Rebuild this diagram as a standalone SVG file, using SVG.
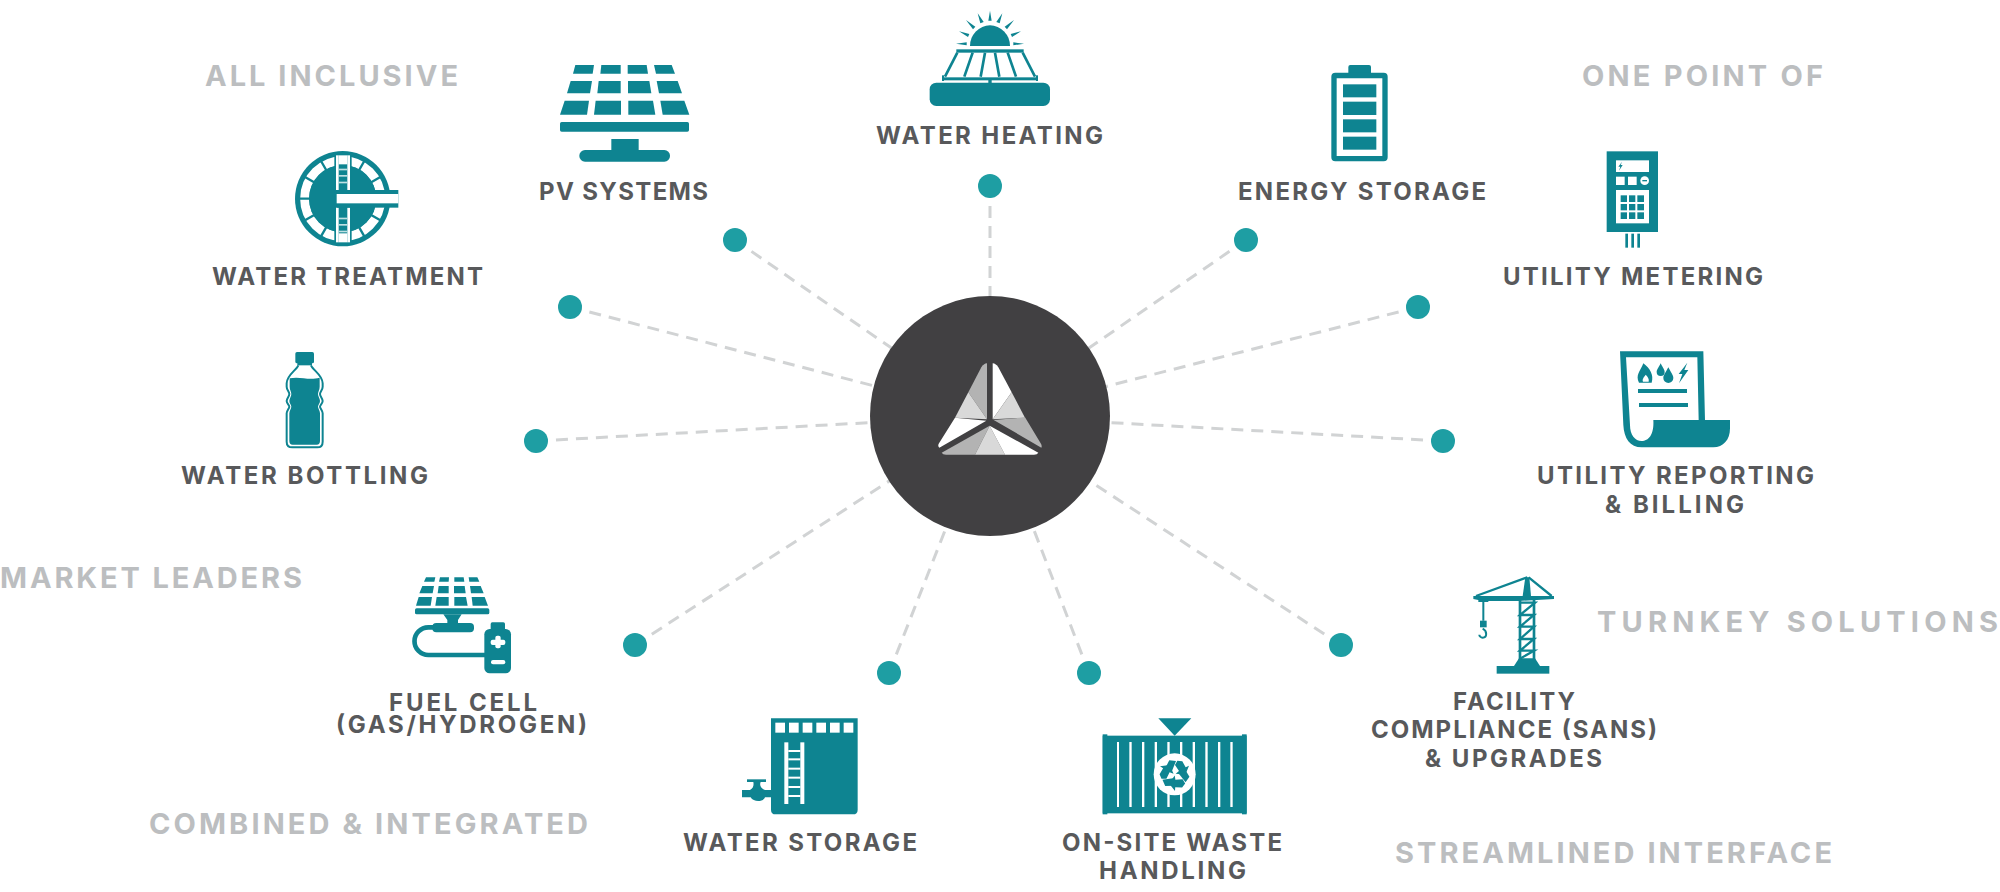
<svg xmlns="http://www.w3.org/2000/svg" xmlns:xlink="http://www.w3.org/1999/xlink" width="2000" height="892" viewBox="0 0 2000 892">
<style>
text{font-family:"Inter","Lato","Liberation Sans",sans-serif;font-weight:700}
.l{font-size:24px;fill:#58595b}
.g{font-size:29px;fill:#bcbec0}
.i{fill:#0e8491}
.w{fill:#fff}
.s{fill:none;stroke:#0e8491}
.c{fill:none;stroke:#d1d3d4;stroke-width:3;stroke-dasharray:12 8}
.d{fill:#1e9ea3}
</style>
<rect width="2000" height="892" fill="#fff"/>
<g id="connectors">
<path class="c" d="M990 186L990 416"/>
<path class="c" d="M1246 240L990 416"/>
<path class="c" d="M1418 307L990 416"/>
<path class="c" d="M1443 441L990 416"/>
<path class="c" d="M1341 645L990 416"/>
<path class="c" d="M1089 673L990 416"/>
<path class="c" d="M889 673L990 416"/>
<path class="c" d="M635 645L990 416"/>
<path class="c" d="M536 441L990 416"/>
<path class="c" d="M570 307L990 416"/>
<path class="c" d="M735 240L990 416"/>
</g>
<g id="dots">
<circle class="d" cx="990" cy="186" r="12"/><circle class="d" cx="1246" cy="240" r="12"/><circle class="d" cx="1418" cy="307" r="12"/><circle class="d" cx="1443" cy="441" r="12"/><circle class="d" cx="1341" cy="645" r="12"/><circle class="d" cx="1089" cy="673" r="12"/><circle class="d" cx="889" cy="673" r="12"/><circle class="d" cx="635" cy="645" r="12"/><circle class="d" cx="536" cy="441" r="12"/><circle class="d" cx="570" cy="307" r="12"/><circle class="d" cx="735" cy="240" r="12"/>
</g>
<g id="hub">
<circle cx="990" cy="416" r="120" fill="#414042"/>
<g transform="translate(850,280) scale(.33333)">
<path fill="#fff" d="M428 250Q438 251 445 262L485 337L428 418Z"/>
<path fill="#d9d9d9" d="M428 418L485 337L525 413Z"/>
<path fill="#b3b3b3" d="M431 420L525 412L572 490Q577 498 574 503Z"/>
<path fill="#b3b3b3" d="M411 250Q401 251 394 262L355 337L411 418Z"/>
<path fill="#d9d9d9" d="M411 418L355 337L315 413Z"/>
<path fill="#fff" d="M315 413L409 422L268 503Q262 498 267 490Z"/>
<path fill="#b3b3b3" d="M419 437L275 518Q278 524 288 524L375 524Z"/>
<path fill="#d9d9d9" d="M419 437L375 524L465 524Z"/>
<path fill="#fff" d="M419 437L465 524L552 524Q562 524 565 518Z"/>
</g>
</g>
<g id="pv-systems">
<g class="i" transform="translate(530,0) scale(.33333)">
<polygon points="136,195 192,195 188,221 129,221"/><polygon points="214,195 272,195 272,221 211,221"/><polygon points="293,195 350,195 354,221 293,221"/><polygon points="372,195 425,195 435,221 378,221"/>
<polygon points="122,243 186,243 180,280 111,280"/><polygon points="206,243 272,243 272,280 202,280"/><polygon points="294,243 358,243 364,280 294,280"/><polygon points="380,243 443,243 456,280 387,280"/>
<polygon points="104,302 177,302 171,344 90,344"/><polygon points="197,302 273,302 273,344 192,344"/><polygon points="295,302 369,302 376,344 295,344"/><polygon points="391,302 463,302 478,344 398,344"/>
<rect x="90" y="366" width="387" height="29" rx="5"/><rect x="244" y="417" width="82" height="38"/><rect x="148" y="450" width="272" height="35" rx="17"/>
</g>
<text class="l" x="539" y="200" textLength="169">PV SYSTEMS</text>
</g>
<g id="water-heating">
<g class="i" transform="translate(880,0) scale(.33333)">
<path d="M270 138A60 62 0 0 1 390 138Z"/>
<polygon points="330,32 335,62 325,62"/><polygon points="293,40 311,66 301,70"/><polygon points="367,40 349,66 359,70"/><polygon points="258,60 286,80 279,88"/><polygon points="402,60 374,80 381,88"/><polygon points="237,94 268,102 264,111"/><polygon points="423,94 392,102 396,111"/><polygon points="228,131 260,127 260,136"/><polygon points="432,131 400,127 400,136"/>
<rect x="229" y="148" width="202" height="10"/>
<path class="s" stroke-width="8" d="M232 158L195 230M278 158L253 230M315 158L302 230M345 158L358 230M383 158L408 230M428 158L465 230"/>
<rect x="190" y="232" width="280" height="9"/><rect x="186" y="226" width="6" height="17"/><rect x="468" y="226" width="6" height="17"/><rect x="325" y="240" width="10" height="9"/>
<rect x="149" y="248" width="361" height="70" rx="20"/>
</g>
<text class="l" x="876" y="144" textLength="227">WATER HEATING</text>
</g>
<g id="energy-storage">
<g class="i" transform="translate(1300,50) scale(.33333)">
<rect x="145" y="45" width="68" height="34" rx="6"/>
<path fill-rule="evenodd" d="M106 68H251Q263 68 263 80V322Q263 334 251 334H106Q94 334 94 322V80Q94 68 106 68ZM110 85V318H247V85Z"/>
<rect x="129" y="103" width="100" height="39"/><rect x="129" y="155" width="100" height="40"/><rect x="129" y="208" width="100" height="39"/><rect x="129" y="260" width="100" height="39"/>
</g>
<text class="l" x="1238" y="200" textLength="248">ENERGY STORAGE</text>
</g>
<g id="utility-metering">
<g transform="translate(1580,140) scale(.33333)">
<rect class="i" x="80" y="34" width="154" height="242"/>
<rect class="w" x="108" y="61" width="99" height="35"/>
<polygon class="i" points="126,65 115,80 121,80 117,92 128,75 122,75"/>
<rect class="w" x="108" y="110" width="26" height="25"/><rect class="w" x="144" y="110" width="26" height="25"/><circle class="w" cx="194" cy="122" r="13"/><rect class="i" x="187" y="120" width="14" height="4"/>
<rect class="w" x="108" y="150" width="99" height="100"/>
<g class="i"><rect x="122" y="166" width="19" height="20"/><rect x="147" y="166" width="19" height="20"/><rect x="172" y="166" width="20" height="20"/><rect x="122" y="192" width="19" height="19"/><rect x="147" y="192" width="19" height="19"/><rect x="172" y="192" width="20" height="19"/><rect x="122" y="217" width="19" height="20"/><rect x="147" y="217" width="19" height="20"/><rect x="172" y="217" width="20" height="20"/>
<rect x="136" y="281" width="8" height="42"/><rect x="154" y="281" width="8" height="42"/><rect x="172" y="281" width="8" height="42"/></g>
</g>
<text class="l" x="1503" y="285" textLength="260">UTILITY METERING</text>
</g>
<g id="utility-reporting">
<g transform="translate(1600,340) scale(.33333)">
<path class="i" d="M60 34L310 34L315 240L390 240L390 265C390 300 370 322 340 322L125 322C90 322 72 295 70 255Z"/>
<path class="w" d="M78 52L292 52L296 240L160 240C163 285 145 303 125 303C105 303 90 285 90 255Z"/>
<g class="i"><rect x="114" y="147" width="147" height="12"/><rect x="117" y="189" width="147" height="12"/>
<path fill-rule="evenodd" d="M130 70C150 85 162 105 155 128L117 128C106 105 120 95 130 70ZM137 104C132 112 126 116 129 125L146 125C148 116 143 110 137 104Z"/>
<path d="M182 70C189 84 194 90 194 96A12 12 0 0 1 170 96C170 90 175 84 182 70Z"/><path d="M205 82C213 98 220 105 220 114A15 15 0 0 1 190 114C190 105 197 98 205 82Z"/><path d="M262 68L236 102L247 102L237 130L265 90L253 90Z"/></g>
</g>
<text class="l" x="1537" y="484" textLength="277">UTILITY REPORTING</text>
<text class="l" x="1605" y="513" textLength="139">&amp; BILLING</text>
</g>
<g id="facility-compliance">
<g transform="translate(1450,560) scale(.33333)">
<g class="i"><polygon points="70,108 312,108 312,117 205,123 100,123 70,117"/><polygon points="226,52 238,52 243,108 218,108"/><rect x="85" y="118" width="30" height="8"/><rect x="90" y="182" width="20" height="20"/><polygon points="207,295 255,295 270,318 192,318"/><rect x="140" y="318" width="158" height="23"/><rect x="206" y="120" width="8" height="180"/><rect x="248" y="120" width="8" height="180"/></g>
<path class="s" stroke-width="7" d="M232 52L78 108M236 52L305 108M207 128H255L210 165H252L210 200H252L210 237H252L210 272H252L210 296"/>
<path class="s" stroke-width="6" d="M100 120V182M98 206C112 213 112 232 98 233C92 233 88 228 88 224"/>
</g>
<text class="l" x="1453" y="710" textLength="122">FACILITY</text>
<text class="l" x="1371" y="738" textLength="286">COMPLIANCE (SANS)</text>
<text class="l" x="1425" y="767" textLength="177">&amp; UPGRADES</text>
</g>
<g id="on-site-waste">
<g transform="translate(1090,705) scale(.33333)">
<g class="i"><polygon points="205,40 304,40 254,92"/><rect x="38" y="92" width="432" height="233"/><rect x="38" y="88" width="14" height="240"/><rect x="456" y="88" width="14" height="240"/></g>
<g class="w"><rect x="81" y="111" width="6" height="195"/><rect x="118" y="111" width="7" height="195"/><rect x="156" y="111" width="7" height="195"/><rect x="194" y="111" width="7" height="195"/><rect x="232" y="111" width="7" height="195"/><rect x="270" y="111" width="7" height="195"/><rect x="308" y="111" width="7" height="195"/><rect x="346" y="111" width="7" height="195"/><rect x="384" y="111" width="7" height="195"/><rect x="421" y="111" width="7" height="195"/><circle cx="254" cy="208" r="63"/></g>
<defs><g id="rec"><polygon points="224,192 238,166 258,168 246,198"/><polygon points="262,167 277,169 287,187 297,182 286,209 257,206 267,198 255,180"/></g></defs>
<g class="i"><use xlink:href="#rec" href="#rec"/><use xlink:href="#rec" href="#rec" transform="rotate(120 254 208)"/><use xlink:href="#rec" href="#rec" transform="rotate(240 254 208)"/></g>
</g>
<text class="l" x="1062" y="851" textLength="220">ON-SITE WASTE</text>
<text class="l" x="1099" y="879" textLength="147">HANDLING</text>
</g>
<g id="water-storage">
<g transform="translate(730,705) scale(.33333)">
<path class="i" d="M123 40H383V314Q383 328 369 328H137Q123 328 123 314Z"/>
<g class="w"><rect x="136" y="53" width="29" height="30"/><rect x="177" y="53" width="29" height="30"/><rect x="218" y="53" width="29" height="30"/><rect x="259" y="53" width="29" height="30"/><rect x="300" y="53" width="29" height="30"/><rect x="341" y="53" width="29" height="30"/>
<rect x="163" y="112" width="12" height="185"/><rect x="211" y="112" width="12" height="185"/><rect x="175" y="135" width="36" height="6"/><rect x="175" y="160" width="36" height="6"/><rect x="175" y="188" width="36" height="6"/><rect x="175" y="215" width="36" height="6"/><rect x="175" y="243" width="36" height="6"/><rect x="175" y="270" width="36" height="6"/></g>
<rect class="i" x="51" y="223" width="57" height="8"/>
<path class="i" d="M36 255L60 255C70 250 72 240 70 231L92 231C88 240 92 250 105 255L123 255L123 277L105 277C100 292 70 292 62 277L36 277Z"/>
</g>
<text class="l" x="683" y="851" textLength="234">WATER STORAGE</text>
</g>
<g id="fuel-cell">
<g class="i" transform="translate(400,565) scale(.33333)">
<polygon points="78,37 106,37 103,50 72,50"/><polygon points="120,37 147,37 146,50 117,50"/><polygon points="163,37 191,37 193,50 163,50"/><polygon points="206,37 232,37 238,50 208,50"/>
<polygon points="67,63 102,63 98,85 58,85"/><polygon points="116,63 146,63 146,85 113,85"/><polygon points="162,63 194,63 197,85 162,85"/><polygon points="210,63 242,63 251,85 213,85"/>
<polygon points="56,96 96,96 92,122 48,122"/><polygon points="110,96 146,96 146,122 106,122"/><polygon points="163,96 198,96 203,122 163,122"/><polygon points="215,96 254,96 264,122 218,122"/>
<rect x="45" y="130" width="223" height="18" rx="5"/><polygon points="130,148 185,148 174,165 174,178 142,178 142,165"/><rect x="97" y="174" width="125" height="28" rx="12"/>
<path class="s" stroke-width="14" d="M100 187H85A41 41 0 0 0 85 270H255"/>
<rect x="272" y="172" width="43" height="26" rx="5"/><rect x="253" y="192" width="80" height="133" rx="16"/>
<g class="w"><rect x="272" y="224" width="44" height="16" rx="6"/><rect x="286" y="212" width="16" height="38" rx="6"/><rect x="273" y="285" width="43" height="13" rx="6"/></g>
</g>
<text class="l" x="389" y="711" textLength="148">FUEL CELL</text>
<text class="l" x="336" y="733" textLength="251">(GAS/HYDROGEN)</text>
</g>
<g id="water-bottling">
<g transform="translate(280,340) scale(.33333)">
<rect class="i" x="46" y="36" width="56" height="34" rx="5"/><rect class="i" x="52" y="68" width="44" height="8"/>
<path class="s" stroke-width="6" d="M55 76C50 90 20 105 20 130V140C20 150 28 155 28 162C28 170 20 175 20 183C20 190 28 195 28 200C28 205 20 212 20 220V305Q20 322 37 322H112Q128 322 128 305V220C128 212 120 205 120 200C120 195 128 190 128 183C128 175 120 170 120 162C120 155 128 150 128 140V130C128 105 98 90 93 76"/>
<path class="i" d="M29 115C60 108 85 122 119 113V140C119 150 114 155 114 162C114 170 120 175 120 183C120 190 114 195 114 200C114 205 120 212 120 220V303Q120 314 110 314H38Q28 314 28 303V220C28 212 34 205 34 200C34 195 28 190 28 183C28 175 34 170 34 162C34 155 29 150 29 140Z"/>
</g>
<text class="l" x="181" y="484" textLength="247">WATER BOTTLING</text>
</g>
<g id="water-treatment">
<g transform="translate(285,140) scale(.33333)">
<circle class="i" cx="173" cy="176" r="143"/>
<circle cx="173" cy="176" r="114" fill="none" stroke="#fff" stroke-width="27"/>
<path class="s" stroke-width="7" d="M173 176L43 176M173 176L60 111M173 176L108 63M238 63L173 176M173 176L286 111M173 176L60 241M173 176L108 289M173 176L238 289M173 176L286 241"/>
<circle class="i" cx="173" cy="176" r="101"/>
<rect class="i" x="148" y="46" width="52" height="262"/>
<g class="w"><rect x="153" y="46" width="8" height="104"/><rect x="187" y="46" width="8" height="104"/><rect x="153" y="203" width="8" height="104"/><rect x="187" y="203" width="8" height="104"/><rect x="161" y="46" width="26" height="27"/><rect x="161" y="280" width="26" height="27"/></g>
<g fill="#bfe0e3"><rect x="161" y="86" width="26" height="5"/><rect x="161" y="105" width="26" height="5"/><rect x="161" y="125" width="26" height="5"/><rect x="161" y="233" width="26" height="5"/><rect x="161" y="252" width="26" height="5"/><rect x="161" y="272" width="26" height="5"/></g>
<rect class="i" x="155" y="150" width="185" height="53"/>
<rect class="w" x="155" y="162" width="185" height="28"/>
</g>
<text class="l" x="212" y="285" textLength="271">WATER TREATMENT</text>
</g>
<g id="taglines">
<text class="g" x="205" y="86" textLength="253">ALL INCLUSIVE</text>
<text class="g" x="1582" y="86" textLength="241">ONE POINT OF</text>
<text class="g" x="0" y="588" textLength="302">MARKET LEADERS</text>
<text class="g" x="1597" y="632" textLength="401">TURNKEY SOLUTIONS</text>
<text class="g" x="149" y="834" textLength="439">COMBINED &amp; INTEGRATED</text>
<text class="g" x="1395" y="863" textLength="437">STREAMLINED INTERFACE</text>
</g>
</svg>
